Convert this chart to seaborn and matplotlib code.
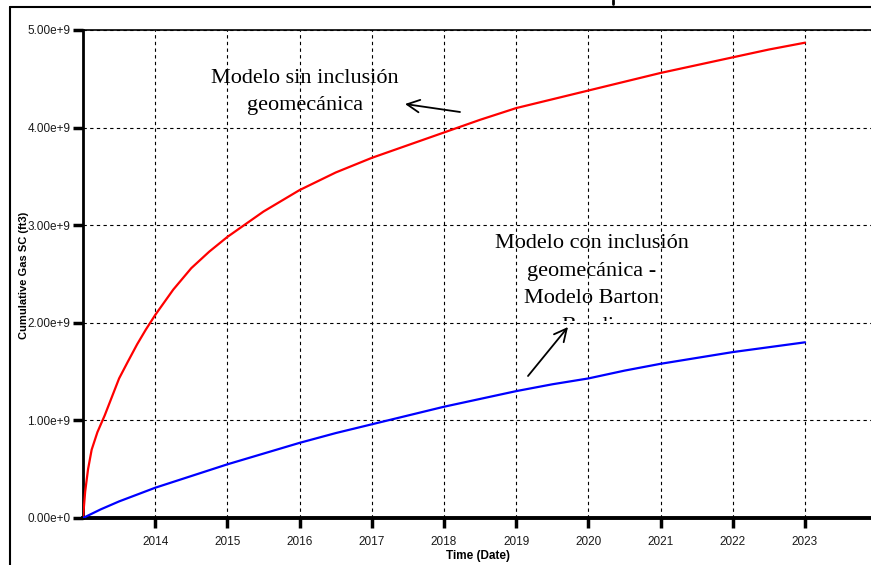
import numpy as np
import pandas as pd
import matplotlib
matplotlib.use("Agg")
import matplotlib.pyplot as plt
import matplotlib.transforms as mtransforms
from matplotlib.lines import Line2D
import seaborn as sns

# ---- data ----
red_years = [2013.0, 2013.03, 2013.07, 2013.12, 2013.2, 2013.3, 2013.4, 2013.5,
             2013.62, 2013.75, 2013.87, 2014.0, 2014.25, 2014.5, 2014.75, 2015.0,
             2015.5, 2016.0, 2016.5, 2017.0, 2017.5, 2018.0, 2018.5, 2019.0,
             2019.5, 2020.0, 2020.5, 2021.0, 2021.5, 2022.0, 2022.5, 2023.0]
red_values = [0.0, 0.27e9, 0.5e9, 0.7e9, 0.88e9, 1.05e9, 1.24e9, 1.43e9,
              1.6e9, 1.78e9, 1.93e9, 2.08e9, 2.34e9, 2.56e9, 2.73e9, 2.88e9,
              3.14e9, 3.36e9, 3.54e9, 3.69e9, 3.82e9, 3.95e9, 4.08e9, 4.2e9,
              4.29e9, 4.38e9, 4.47e9, 4.56e9, 4.64e9, 4.72e9, 4.8e9, 4.87e9]
blue_years = [2013.0, 2013.25, 2013.5, 2013.75, 2014.0, 2014.5, 2015.0, 2015.5,
              2016.0, 2016.5, 2017.0, 2017.5, 2018.0, 2018.5, 2019.0, 2019.5,
              2020.0, 2020.5, 2021.0, 2021.5, 2022.0, 2022.5, 2023.0]
blue_values = [0.0, 0.09e9, 0.17e9, 0.24e9, 0.31e9, 0.43e9, 0.55e9, 0.66e9,
               0.77e9, 0.87e9, 0.96e9, 1.05e9, 1.14e9, 1.22e9, 1.30e9, 1.37e9,
               1.43e9, 1.51e9, 1.58e9, 1.64e9, 1.70e9, 1.75e9, 1.80e9]
series_names = ["Sin inclusión", "Con inclusión"]
year_ticks = [2014, 2015, 2016, 2017, 2018, 2019, 2020, 2021, 2022, 2023]
y_ticks = [0.0, 1e9, 2e9, 3e9, 4e9, 5e9]
y_tick_labels = ["0.00e+0", "1.00e+9", "2.00e+9", "3.00e+9", "4.00e+9", "5.00e+9"]

df = pd.concat([
    pd.DataFrame({"year": red_years, "gas": red_values, "serie": series_names[0]}),
    pd.DataFrame({"year": blue_years, "gas": blue_values, "serie": series_names[1]}),
])

sns.set_theme(style="white")
plt.rcParams["font.family"] = ["Liberation Sans", "DejaVu Sans"]
plt.rcParams["text.color"] = "black"

fig = plt.figure(figsize=(8.71, 5.65), dpi=100)
ax = fig.add_axes([83 / 871, 47 / 565, 1 - 83 / 871, 488 / 565])

sns.lineplot(data=df, x="year", y="gas", hue="serie",
             palette={series_names[0]: "#ff0000", series_names[1]: "#0000ff"},
             linewidth=1.6, legend=False, ax=ax, zorder=3)

ax.set_xlim(2013.0, 2013.0 + 788 / 72.2)
ax.set_ylim(0, 5e9)
ax.set_xticks(year_ticks)
ax.set_xticklabels([str(y) for y in year_ticks], fontsize=8.5)
ax.set_yticks(y_ticks)
ax.set_yticklabels(y_tick_labels, fontsize=8.5)

ax.grid(True, color="black", linestyle=(0, (3, 3)), linewidth=0.8)
ax.tick_params(axis="both", direction="out", length=7, width=2.5, color="black",
               labelcolor="#1a1a1a")
ax.tick_params(axis="y", left=True, pad=2)
ax.tick_params(axis="x", bottom=True, pad=6)

ax.spines["right"].set_visible(False)
ax.spines["left"].set_linewidth(2)
ax.spines["left"].set_color("black")
ax.spines["bottom"].set_linewidth(2.8)
ax.spines["bottom"].set_color("black")
ax.spines["top"].set_linewidth(1.2)
ax.spines["top"].set_color("black")

ax.set_xlabel("Time (Date)", fontsize=8.5, fontweight="bold", color="black")
ax.set_ylabel("Cumulative Gas SC (ft3)", fontsize=8, fontweight="bold",
              color="black")
ax.xaxis.set_label_coords((478 - 83) / 788, (518 - 550) / 488)
ax.yaxis.set_label_coords((29 - 83) / 788, (518 - 275) / 488)

serif = ["Liberation Serif", "DejaVu Serif"]
ax.text(305, 565 - 92, "Modelo sin inclusión\ngeomecánica", transform=None,
        fontsize=16, family=serif, ha="center", va="center", linespacing=1.55,
        color="black")

t2 = ax.text(592, 565 - 285, "Modelo con inclusión\ngeomecánica -\nModelo Barton\nBandis",
             transform=None, fontsize=16, family=serif, ha="center", va="center",
             linespacing=1.6, color="black")
t2.set_clip_box(mtransforms.Bbox.from_extents(0, 565 - 321, 871, 565))
t2.set_clip_on(True)

arrow_style = "->,head_length=0.6,head_width=0.3"
ax.annotate("", xy=(405, 565 - 104), xytext=(460, 565 - 112),
            xycoords="figure pixels", textcoords="figure pixels",
            arrowprops=dict(arrowstyle=arrow_style, color="black", lw=1.3,
                            mutation_scale=15, shrinkA=0, shrinkB=0))
ax.annotate("", xy=(568, 565 - 327), xytext=(528, 565 - 376),
            xycoords="figure pixels", textcoords="figure pixels",
            arrowprops=dict(arrowstyle=arrow_style, color="black", lw=1.3,
                            mutation_scale=15, shrinkA=0, shrinkB=0))

# outer frame lines
fig.add_artist(Line2D([10 / 871, 10 / 871], [0, 1 - 7 / 565], color="black",
                      lw=1.5, transform=fig.transFigure))
fig.add_artist(Line2D([10 / 871, 1], [1 - 7 / 565, 1 - 7 / 565], color="black",
                      lw=1.5, transform=fig.transFigure))
fig.add_artist(Line2D([613 / 871, 613 / 871], [1, 1 - 4 / 565], color="black",
                      lw=2, transform=fig.transFigure))

fig.savefig("out.png", dpi=100)
